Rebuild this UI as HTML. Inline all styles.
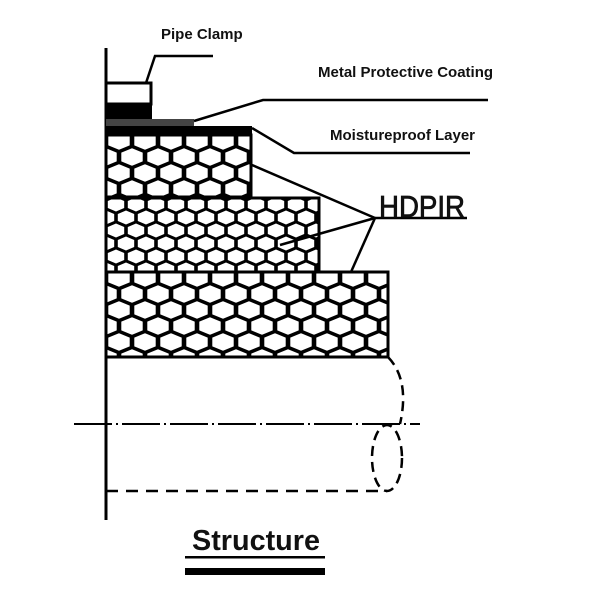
<!DOCTYPE html>
<html><head><style>body{margin:0;background:#fff}svg{display:block}</style></head><body>
<svg width="600" height="600" viewBox="0 0 600 600" xmlns="http://www.w3.org/2000/svg">
<defs>
<polygon id="hb" points="0,-8.8 10.7,-4.4 10.7,4.4 0,8.8 -10.7,4.4 -10.7,-4.4" fill="#fff"/>
<polygon id="hs" points="0,-7 8.2,-3.5 8.2,3.5 0,7 -8.2,3.5 -8.2,-3.5" fill="#fff"/>
<pattern id="h1" width="26" height="32" patternUnits="userSpaceOnUse" x="106" y="133">
<rect width="26" height="32" fill="#000"/>
<use href="#hb" x="13" y="8"/><use href="#hb" x="13" y="40"/>
<use href="#hb" x="0" y="24"/><use href="#hb" x="26" y="24"/>
<use href="#hb" x="0" y="-8"/><use href="#hb" x="26" y="-8"/>
</pattern>
<pattern id="h3" width="26" height="32" patternUnits="userSpaceOnUse" x="106" y="270">
<rect width="26" height="32" fill="#000"/>
<use href="#hb" x="13" y="8"/><use href="#hb" x="13" y="40"/>
<use href="#hb" x="0" y="24"/><use href="#hb" x="26" y="24"/>
<use href="#hb" x="0" y="-8"/><use href="#hb" x="26" y="-8"/>
</pattern>
<pattern id="h2" width="20" height="26" patternUnits="userSpaceOnUse" x="106" y="198">
<rect width="20" height="26" fill="#000"/>
<use href="#hs" x="10" y="6.5"/><use href="#hs" x="10" y="32.5"/>
<use href="#hs" x="0" y="19.5"/><use href="#hs" x="20" y="19.5"/>
<use href="#hs" x="0" y="-6.5"/><use href="#hs" x="20" y="-6.5"/>
</pattern>
</defs>
<g stroke="#000" stroke-width="3" fill="none">
<rect x="106" y="135" width="145" height="62" fill="url(#h1)"/>
<rect x="106" y="198" width="213" height="74" fill="url(#h2)"/>
<rect x="106" y="272" width="282" height="85" fill="url(#h3)"/>
<line x1="106" y1="48" x2="106" y2="520"/>
<rect x="106" y="83" width="45" height="21" fill="#fff"/>
</g>
<rect x="106" y="104" width="46" height="15" fill="#000"/>
<rect x="106" y="119" width="88" height="7" fill="#444"/>
<rect x="106" y="126" width="146" height="9" fill="#000"/>
<g stroke="#000" stroke-width="2.5" fill="none">
<polyline points="146,83 155,56 213,56"/>
<polyline points="194,121 263,100 488,100"/>
<polyline points="252,128 294,153 470,153"/>
<line x1="375" y1="218" x2="467" y2="218"/>
<line x1="375" y1="218" x2="252" y2="165"/>
<line x1="375" y1="218" x2="280" y2="245"/>
<line x1="375" y1="218" x2="351" y2="272"/>
<path d="M388,357 Q410,380 400,424" stroke-dasharray="10,6"/>
<line x1="106" y1="491" x2="387" y2="491" stroke-dasharray="12,8"/>
<ellipse cx="387" cy="458" rx="15" ry="33" stroke-dasharray="10,6"/>
<line x1="74" y1="424" x2="420" y2="424" stroke-width="2" stroke-dasharray="38,4,2,4"/>
</g>
<g font-family="Liberation Sans, sans-serif" font-weight="bold" fill="#111">
<text x="161" y="39" font-size="15">Pipe Clamp</text>
<text x="318" y="77" font-size="15">Metal Protective Coating</text>
<text x="330" y="140" font-size="15">Moistureproof Layer</text>
<text x="379" y="217" font-size="31" font-weight="normal" stroke="#111" stroke-width="0.8" textLength="86" lengthAdjust="spacingAndGlyphs">HDPIR</text>
<text x="192" y="550" font-size="29" textLength="128" lengthAdjust="spacingAndGlyphs">Structure</text>
</g>
<rect x="185" y="556" width="140" height="2.5" fill="#000"/>
<rect x="185" y="568" width="140" height="7" fill="#000"/>
</svg>
</body></html>
